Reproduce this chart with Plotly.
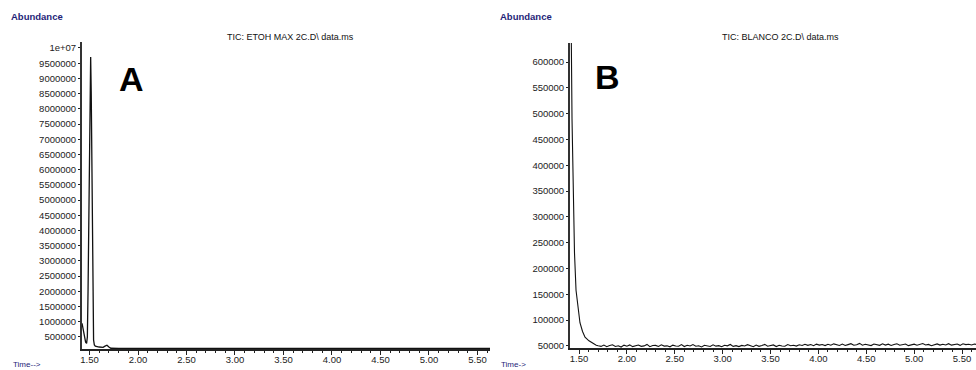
import plotly.graph_objects as go

W, H = 976, 370

# ---------------- data ----------------
# Panel A: TIC ETOH MAX 2C
a_time = [1.423, 1.430, 1.440, 1.450, 1.460, 1.470, 1.478, 1.485, 1.490, 1.497,
          1.505, 1.512, 1.518, 1.524, 1.528, 1.532, 1.536, 1.542, 1.550, 1.560,
          1.600, 1.640, 1.660, 1.680, 1.700, 1.720, 1.800, 2.000, 2.500, 3.000,
          3.500, 4.000, 4.500, 5.000, 5.500, 5.630]
a_abund = [950000, 820000, 620000, 450000, 330000, 290000, 500000, 2000000, 3500000, 6500000,
           9000000, 9700000, 8500000, 6500000, 4000000, 2000000, 800000, 400000, 240000, 200000,
           170000, 160000, 200000, 230000, 170000, 130000, 125000, 125000, 125000, 125000,
           125000, 125000, 125000, 125000, 125000, 125000]

# Panel B: TIC BLANCO 2C
b_peak_time = [1.406, 1.417, 1.427, 1.437, 1.453, 1.469, 1.490, 1.510, 1.537, 1.563,
               1.604, 1.646, 1.680]
b_peak_abund = [800000, 700000, 490000, 350000, 230000, 158000, 120000, 95000, 78000, 67000,
                60000, 55000, 51500]
b_base_time = [1.70, 1.73, 1.76, 1.79, 1.82, 1.85, 1.88, 1.91, 1.94, 1.97,
               2.00, 2.03, 2.06, 2.09, 2.12, 2.15, 2.18, 2.21, 2.24, 2.27,
               2.30, 2.33, 2.36, 2.39, 2.42, 2.45, 2.48, 2.51, 2.54, 2.57,
               2.60, 2.63, 2.66, 2.69, 2.72, 2.75, 2.78, 2.81, 2.84, 2.87,
               2.90, 2.93, 2.96, 2.99, 3.02, 3.05, 3.08, 3.11, 3.14, 3.17,
               3.20, 3.23, 3.26, 3.29, 3.32, 3.35, 3.38, 3.41, 3.44, 3.47,
               3.50, 3.53, 3.56, 3.59, 3.62, 3.65, 3.68, 3.71, 3.74, 3.77,
               3.80, 3.83, 3.86, 3.89, 3.92, 3.95, 3.98, 4.01, 4.04, 4.07,
               4.10, 4.13, 4.16, 4.19, 4.22, 4.25, 4.28, 4.31, 4.34, 4.37,
               4.40, 4.43, 4.46, 4.49, 4.52, 4.55, 4.58, 4.61, 4.64, 4.67,
               4.70, 4.73, 4.76, 4.79, 4.82, 4.85, 4.88, 4.91, 4.94, 4.97,
               5.00, 5.03, 5.06, 5.09, 5.12, 5.15, 5.18, 5.21, 5.24, 5.27,
               5.30, 5.33, 5.36, 5.39, 5.42, 5.45, 5.48, 5.51, 5.54, 5.57,
               5.60, 5.63, 5.66]
b_base_abund = [50500, 49200, 51800, 48700, 50900, 52300, 49100, 50400, 47900, 51600,
                49500, 52100, 48800, 50700, 51900, 49300, 50200, 53000, 48600, 50800,
                51200, 49000, 52400, 49800, 50300, 48400, 51700, 50100, 49400, 52600,
                48900, 51300, 50000, 52800, 49600, 50500, 48200, 51400, 50900, 49100,
                52200, 49700, 50600, 48500, 51500, 50300, 52900, 49200, 50700, 48800,
                51100, 49900, 52500, 50200, 48700, 51800, 49400, 50800, 53100, 49600,
                50400, 52000, 48900, 51300, 50100, 49500, 52700, 50600, 51400, 49800,
                52300, 50900, 53400, 51200, 52800, 50500, 53600, 51700, 52900, 50800,
                53200, 51400, 54100, 52000, 51100, 53700, 50900, 52600, 54400, 51500,
                52400, 55000, 51600, 53300, 52100, 50800, 53900, 52500, 51300, 54200,
                51800, 53500, 50900, 52700, 54300, 51400, 52200, 53800, 50700, 52900,
                53600, 51500, 52800, 54700, 51900, 53100, 50600, 52400, 54000, 51700,
                53300, 52000, 54500, 51600, 52900, 53700, 51200, 54200, 52600, 53400,
                51900, 53800, 52500]
b_time = b_peak_time + b_base_time
b_abund = b_peak_abund + b_base_abund

a_ytickvals = [500000 * k for k in range(1, 21)]
a_yticktext = [str(v) for v in a_ytickvals[:-1]] + ["1e+07"]
b_ytickvals = [50000 * k for k in range(1, 13)]
b_yticktext = [str(v) for v in b_ytickvals]

title_a = "TIC: ETOH MAX 2C.D\\ data.ms"
title_b = "TIC: BLANCO 2C.D\\ data.ms"

# ---------------- layout helpers ----------------
def px(x):
    return x / W

def py(y):
    return 1 - y / H

NAVY = "#1e1e78"
FONT = "Liberation Sans, Arial, sans-serif"

fig = go.Figure()
fig.add_trace(go.Scatter(x=a_time, y=a_abund, mode="lines", xaxis="x", yaxis="y",
                         line=dict(color="#111111", width=1.3), showlegend=False))
fig.add_trace(go.Scatter(x=b_time, y=b_abund, mode="lines", xaxis="x2", yaxis="y2",
                         line=dict(color="#111111", width=1.1), showlegend=False))

xcommon = dict(showgrid=False, zeroline=False, showline=True, linecolor="#222222", linewidth=1.5,
               ticks="outside", ticklen=4, tickwidth=1, tickcolor="#222222",
               tick0=1.5, dtick=0.5, tickformat=".2f", automargin=False,
               ticklabelstandoff=-3,
               tickfont=dict(family=FONT, size=9.5, color="#222222"),
               minor=dict(dtick=0.1, tick0=1.5, ticks="outside", ticklen=2, tickcolor="#222222"))
ycommon = dict(showgrid=False, zeroline=False, showline=True, linecolor="#333333", linewidth=2,
               ticks="outside", ticklen=2, tickwidth=1, tickcolor="#222222", automargin=False,
               tickfont=dict(family=FONT, size=9.5, color="#222222"), tickmode="array")

fig.update_layout(
    template="none",
    width=W, height=H, margin=dict(l=0, r=0, t=0, b=0, pad=0),
    paper_bgcolor="white", plot_bgcolor="white",
    xaxis=dict(domain=[px(82), px(490)], range=[1.4227, 5.629], anchor="y", **xcommon),
    yaxis=dict(domain=[py(349), py(42)], range=[105000, 10197000], anchor="x",
               tickvals=a_ytickvals, ticktext=a_yticktext, **ycommon),
    xaxis2=dict(domain=[px(570), px(976)], range=[1.406, 5.646], anchor="y2", **xcommon),
    yaxis2=dict(domain=[py(348), py(43)], range=[46100, 636800], anchor="x2",
                tickvals=b_ytickvals, ticktext=b_yticktext, **ycommon),
)

ann = []
def add_text(text, x, y, size, color="#111111", xanchor="center", bold=False):
    ann.append(dict(text=("<b>%s</b>" % text) if bold else text, x=px(x), y=py(y),
                    xref="paper", yref="paper", xanchor=xanchor, yanchor="middle",
                    showarrow=False, font=dict(family=FONT, size=size, color=color)))

add_text("Abundance", 9, 16, 9.5, NAVY, "left", bold=True)
add_text("Abundance", 498, 16, 9.5, NAVY, "left", bold=True)
add_text(title_a, 290, 37, 9)
add_text(title_b, 780, 37, 9)
add_text("A", 131, 79, 34, "#000000", bold=True)
add_text("B", 607, 77, 34, "#000000", bold=True)
add_text("Time-->", 11, 364, 8, NAVY, "left")
add_text("Time->", 499, 364, 8, NAVY, "left")
fig.update_layout(annotations=ann)

fig.write_html("out.html", config={"displayModeBar": False},
               post_script="document.body.style.margin='0';document.body.style.overflow='hidden';")
